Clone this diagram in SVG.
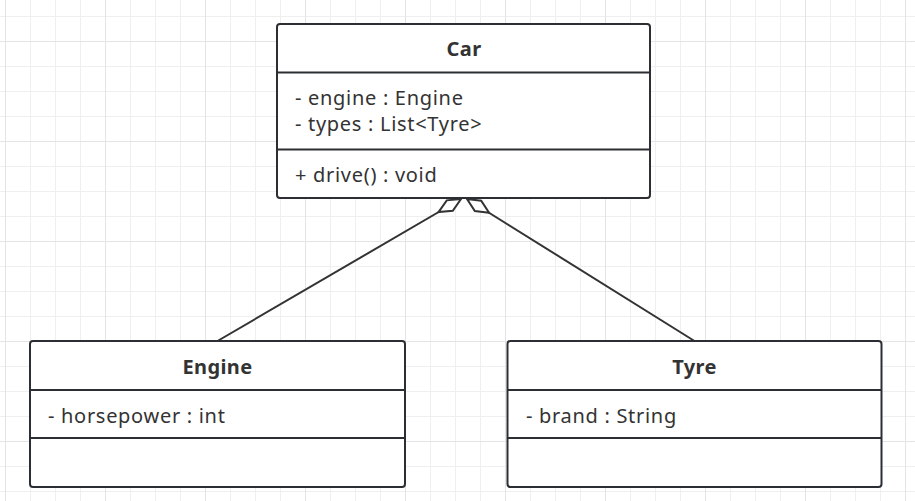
<svg xmlns="http://www.w3.org/2000/svg" width="915" height="501" viewBox="0 0 915 501">
<style>
.box{fill:#ffffff;stroke:#2b2f33;stroke-width:2}
.div{stroke:#2b2f33;stroke-width:2}
.title{font-family:"Noto Sans","Open Sans",sans-serif;font-size:20px;font-weight:bold;fill:#333333;text-anchor:middle;letter-spacing:0.4px}
.attr{font-family:"Noto Sans","Open Sans",sans-serif;font-size:20px;fill:#333333;letter-spacing:0.7px}
.conn{stroke:#333333;stroke-width:2;fill:none}
</style>
<defs>
<pattern id="minor" patternUnits="userSpaceOnUse" x="5" y="16" width="25" height="25">
<path d="M0.5 0V25M0 0.5H25" stroke="#efefef" stroke-width="1" fill="none"/>
</pattern>
<pattern id="major" patternUnits="userSpaceOnUse" x="5" y="41" width="100" height="100">
<path d="M0.5 0V100M0 0.5H100" stroke="#e4e4e4" stroke-width="1" fill="none"/>
</pattern>
<marker id="diamond" markerUnits="userSpaceOnUse" markerWidth="30" markerHeight="16" viewBox="-28 -8 30 16" refX="0" refY="0" orient="auto">
<path d="M0,0 L-13,-6 L-26,0 L-13,6 Z" fill="#ffffff" stroke="#333333" stroke-width="2" stroke-linejoin="miter"/>
</marker>
</defs>
<rect width="915" height="501" fill="#ffffff"/>
<rect width="915" height="501" fill="url(#minor)"/>
<rect width="915" height="501" fill="url(#major)"/>
<g id="connectors">
<path class="conn" d="M217.5,341 L461,199" marker-end="url(#diamond)"/>
<path class="conn" d="M694.5,341 L467,199" marker-end="url(#diamond)"/>
</g>
<g id="car">
<rect class="box" x="277" y="24" width="373" height="174" rx="3"/>
<line class="div" x1="277" y1="72.5" x2="650" y2="72.5"/>
<line class="div" x1="277" y1="149.5" x2="650" y2="149.5"/>
<text class="title" x="464" y="55.5">Car</text>
<text class="attr" x="295" y="105">- engine : Engine</text>
<text class="attr" x="295" y="131">- types : List&lt;Tyre&gt;</text>
<text class="attr" x="295" y="181.5">+ drive() : void</text>
</g>
<g id="engine">
<rect class="box" x="30" y="341" width="375" height="146" rx="3"/>
<line class="div" x1="30" y1="390" x2="405" y2="390"/>
<line class="div" x1="30" y1="438" x2="405" y2="438"/>
<text class="title" x="217.5" y="374">Engine</text>
<text class="attr" x="48" y="422.5">- horsepower : int</text>
</g>
<g id="tyre">
<rect class="box" x="507.5" y="341" width="374" height="146" rx="3"/>
<line class="div" x1="507.5" y1="390" x2="881.5" y2="390"/>
<line class="div" x1="507.5" y1="438" x2="881.5" y2="438"/>
<text class="title" x="694.5" y="374">Tyre</text>
<text class="attr" x="526" y="422.5">- brand : String</text>
</g>
</svg>
